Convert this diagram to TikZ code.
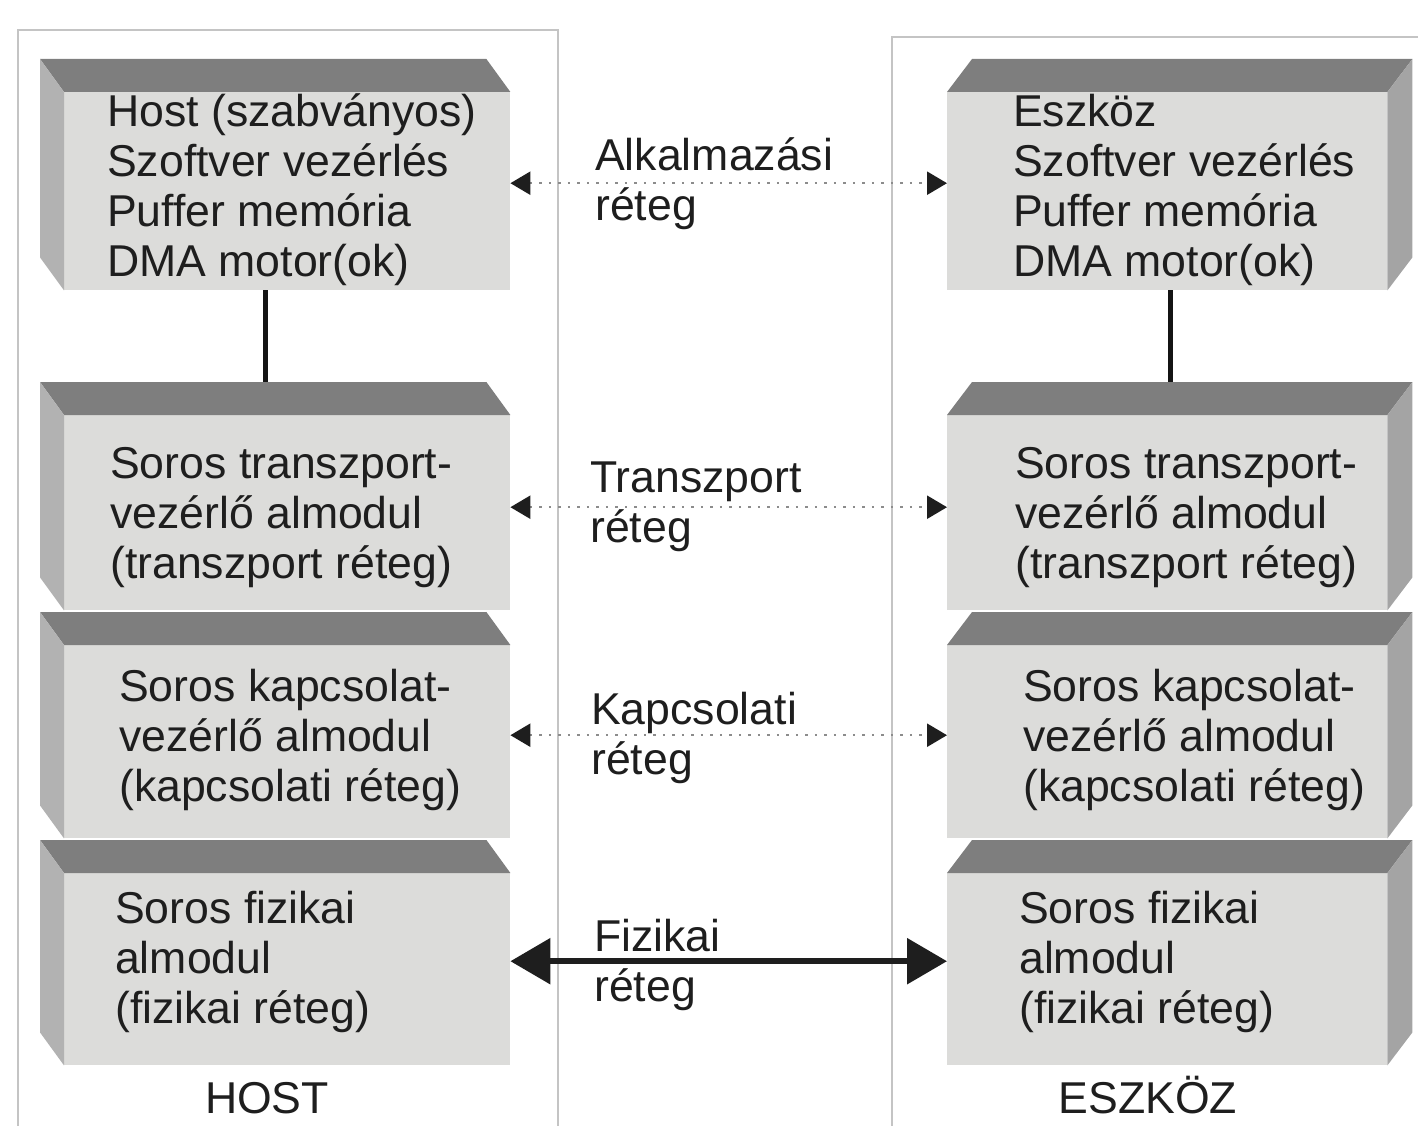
\documentclass[tikz,border=0pt]{standalone}
\usepackage{fontspec}
\setmainfont{Liberation Sans}
\usetikzlibrary{arrows.meta}

\definecolor{facefront}{HTML}{DCDCDA}
\definecolor{facetop}{HTML}{7E7E7E}
\definecolor{faceside}{HTML}{B2B2B2}
\definecolor{framegray}{HTML}{C4C4C4}
\definecolor{ink}{HTML}{1E1E1E}
\definecolor{dotgray}{HTML}{8C8C8C}

\newcommand\layerfont{\fontsize{44.6pt}{50pt}\selectfont}
\newcommand\stacklines[1]{\begin{tabular}[t]{@{}l@{}}#1\end{tabular}}

\begin{document}
\begin{tikzpicture}[x=1pt,y=-1pt,
  frame/.style={draw=framegray, line width=2pt},
  front/.style={rectangle, fill=facefront, draw=none, inner sep=0pt, anchor=north west},
  boxtext/.style={anchor=base west, inner sep=0pt, text=ink, font=\layerfont},
  link/.style={draw=black!92, line width=5pt},
  dotarrow/.style={draw=dotgray, line width=2.5pt, dash pattern=on 2.5pt off 7pt,
    {Triangle[length=20pt,width=23pt,color=ink]}-{Triangle[length=20pt,width=23pt,color=ink]}},
  thickarrow/.style={draw=ink, line width=6pt,
    {Triangle[length=40pt,width=45pt]}-{Triangle[length=40pt,width=45pt]}}
]
\useasboundingbox (0,0) rectangle (1418,1126);

% column frames
\draw[frame] (18,1140) -- (18,30) -- (558,30) -- (558,1140);
\draw[frame] (892,1140) -- (892,37) -- (1430,37);

% front faces of the host layers
\node[front, minimum width=446pt, minimum height=198pt] (h1) at (64,92) {};
\node[front, minimum width=446pt, minimum height=195pt] (h2) at (64,415) {};
\node[front, minimum width=446pt, minimum height=193pt] (h3) at (64,645) {};
\node[front, minimum width=446pt, minimum height=192pt] (h4) at (64,873) {};
% front faces of the device layers
\node[front, minimum width=440pt, minimum height=198pt] (d1) at (947,92) {};
\node[front, minimum width=440pt, minimum height=195pt] (d2) at (947,415) {};
\node[front, minimum width=440pt, minimum height=193pt] (d3) at (947,645) {};
\node[front, minimum width=440pt, minimum height=192pt] (d4) at (947,873) {};

% top and side faces: host blocks recede to the left, device blocks to the right
\foreach \b in {h1,h2,h3,h4}{
  \fill[facetop] (\b.north west) -- ++(-24,-33)
    -- ([xshift=-24pt,yshift=33pt]\b.north east) -- (\b.north east) -- cycle;
  \fill[faceside] (\b.north west) -- ++(-24,-33)
    -- ([xshift=-24pt,yshift=33pt]\b.south west) -- (\b.south west) -- cycle;
}
\foreach \b in {d1,d2,d3,d4}{
  \fill[facetop] (\b.north west) -- ++(25,-33)
    -- ([xshift=25pt,yshift=33pt]\b.north east) -- (\b.north east) -- cycle;
  \fill[faceside!92!black] (\b.north east) -- ++(25,-33)
    -- ([xshift=25pt,yshift=33pt]\b.south east) -- (\b.south east) -- cycle;
}

% links between the upper two layers
\draw[link] ([xshift=-22pt]h1.south) -- ([xshift=-22pt,yshift=33pt]h2.north);
\draw[link] ([xshift=3pt]d1.south) -- ([xshift=3pt,yshift=33pt]d2.north);

% layer texts
\node[boxtext] (h1t) at (107,127) {\stacklines{Host (szabványos)\\Szoftver vezérlés\\Puffer memória\\DMA motor(ok)}};
\node[boxtext] (h2t) at (110,478) {\stacklines{Soros transzport-\\vezérlő almodul\\(transzport réteg)}};
\node[boxtext] (h3t) at (119,701) {\stacklines{Soros kapcsolat-\\vezérlő almodul\\(kapcsolati réteg)}};
\node[boxtext] (h4t) at (115,923) {\stacklines{Soros fizikai\\almodul\\(fizikai réteg)}};

\node[boxtext] (d1t) at (1013,127) {\stacklines{Eszköz\\Szoftver vezérlés\\Puffer memória\\DMA motor(ok)}};
\node[boxtext] (d2t) at (1015,478) {\stacklines{Soros transzport-\\vezérlő almodul\\(transzport réteg)}};
\node[boxtext] (d3t) at (1023,701) {\stacklines{Soros kapcsolat-\\vezérlő almodul\\(kapcsolati réteg)}};
\node[boxtext] (d4t) at (1019,923) {\stacklines{Soros fizikai\\almodul\\(fizikai réteg)}};

% peer-to-peer layer connections
\draw[dotarrow] ([yshift=8pt]h1.east) -- ([yshift=8pt]d1.west);
\draw[dotarrow] ([yshift=5.5pt]h2.east) -- ([yshift=5.5pt]d2.west);
\draw[dotarrow] ([yshift=6.5pt]h3.east) -- ([yshift=6.5pt]d3.west);
\draw[thickarrow] ([yshift=8pt]h4.east) -- ([yshift=8pt]d4.west);

% layer names
\node[boxtext] (l1) at (595,171) {\stacklines{Alkalmazási\\réteg}};
\node[boxtext] (l2) at (590,492) {\stacklines{Transzport\\réteg}};
\node[boxtext] (l3) at (591,724) {\stacklines{Kapcsolati\\réteg}};
\node[boxtext] (l4) at (594,951) {\stacklines{Fizikai\\réteg}};

% column captions
\node[anchor=base, inner sep=0pt, text=ink, font=\layerfont] (hostcap) at (267,1113) {HOST};
\node[anchor=base, inner sep=0pt, text=ink, font=\layerfont] (devcap) at (1148,1113) {ESZKÖZ};
\end{tikzpicture}
\end{document}
